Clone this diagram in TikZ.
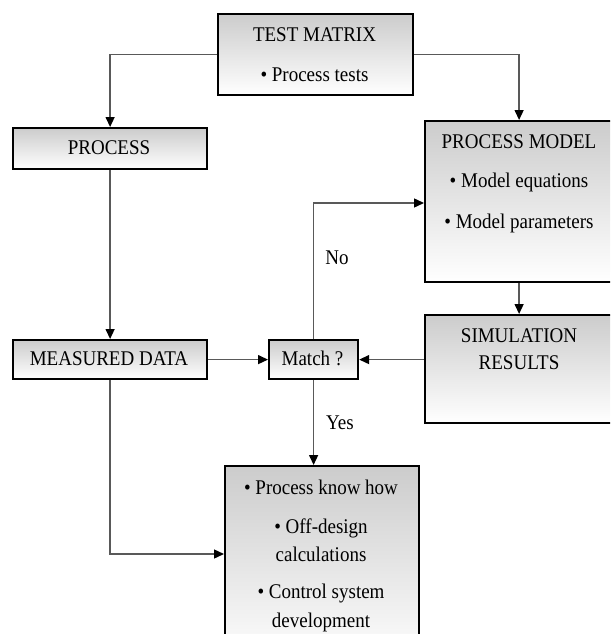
\documentclass[tikz,border=0pt]{standalone}
\usepackage{fontspec}
\setmainfont{Liberation Serif}
\usetikzlibrary{arrows.meta}
\tikzset{
  box/.style={draw=black, line width=2.2pt, top color=black!20, bottom color=white, inner sep=0pt, anchor=north west},
  txt/.style={inner sep=0pt, font=\fontsize{19}{22}\selectfont, text=black, yscale=1.1, transform shape},
  conn/.style={draw=black!65, line width=1.4pt, -{Triangle[length=10pt,width=9pt,color=black]}},
}
\begin{document}
\begin{tikzpicture}[x=1pt,y=-1pt]
\clip (0,0) rectangle (610,634);
\fill[white] (0,0) rectangle (610,634);
% boxes
\node[box, minimum width=195pt, minimum height=81pt] (tm) at (217,13) {};
\node[box, minimum width=194pt, minimum height=41pt] (proc) at (12,127) {};
\node[box, minimum width=188pt, minimum height=161pt] (pm) at (424,120) {};
\node[box, minimum width=188pt, minimum height=108pt] (sr) at (424,314) {};
\node[box, minimum width=194pt, minimum height=39pt] (md) at (12,339) {};
\node[box, minimum width=89pt, minimum height=39pt] (match) at (268,339) {};
\node[box, minimum width=194pt, minimum height=200pt] (fin) at (224,465) {};
% texts
\node[txt] (t1) at (314.5,35) {TEST MATRIX};
\node[txt] (t2) at (314.5,75) {• Process tests};
\node[txt] (t3) at (109,148) {PROCESS};
\node[txt] (t4) at (519,142) {PROCESS MODEL};
\node[txt] (t5) at (519,182) {• Model equations};
\node[txt] (t6) at (519,223) {• Model parameters};
\node[txt] (t7) at (519,336) {SIMULATION};
\node[txt] (t8) at (519,363) {RESULTS};
\node[txt] (t9) at (109,358.5) {MEASURED DATA};
\node[txt] (t10) at (312.5,358.5) {Match ?};
\node[txt] (t11) at (321,487) {• Process know how};
\node[txt] (t12) at (321,528) {• Off-design};
\node[txt] (t13) at (321,554) {calculations};
\node[txt] (t14) at (321,593) {• Control system};
\node[txt] (t15) at (321,622) {development};
\node[txt] (no) at (337,258) {No};
\node[txt] (yes) at (340,423) {Yes};
% coordinates
\coordinate (noin) at (424,203);
\coordinate (finin) at (224,554);
% connectors
\draw[conn] (tm.west) -| (proc.north);
\draw[conn] (tm.east) -| (pm.north);
\draw[conn] (proc.south) -- (md.north);
\draw[conn] (pm.south) -- (sr.north);
\draw[conn] (md.east) -- (match.west);
\draw[conn] (sr.west |- match.east) -- (match.east);
\draw[conn] (match.north) |- (noin);
\draw[conn] (match.south) -- (match.south |- fin.north);
\draw[conn] (md.south) |- (finin);
\end{tikzpicture}
\end{document}
